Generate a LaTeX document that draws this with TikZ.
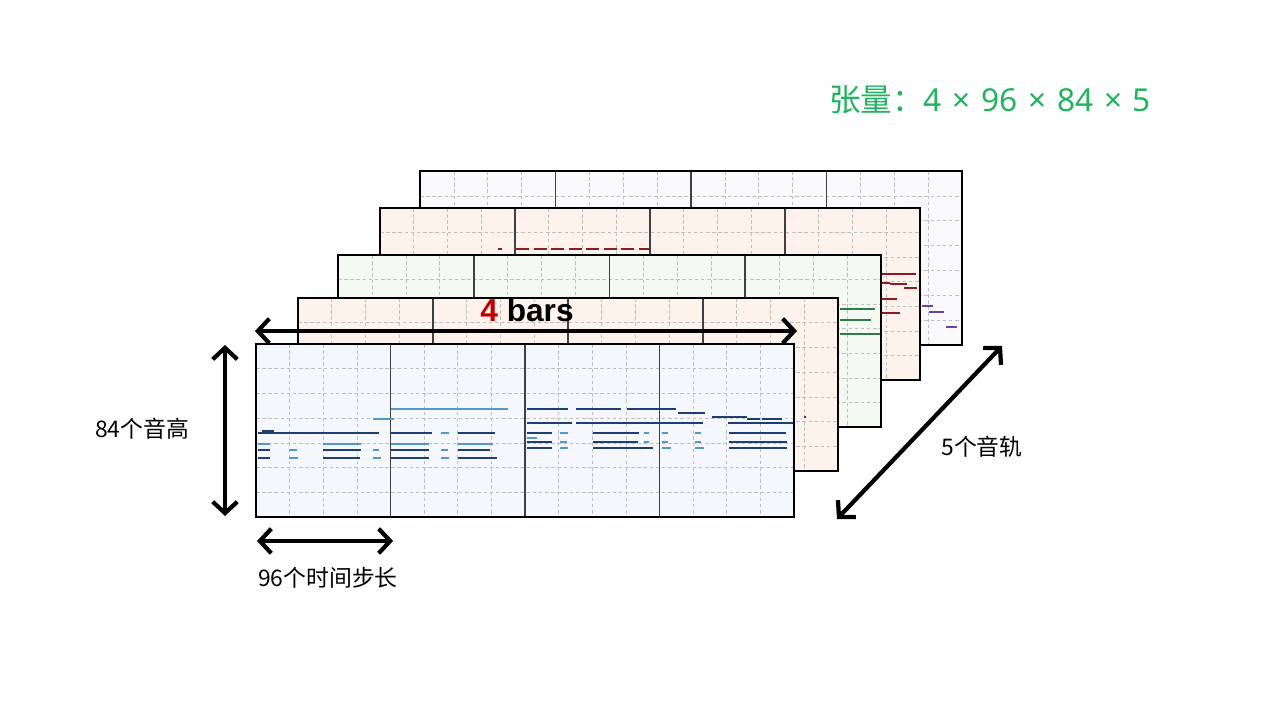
\documentclass[tikz,border=0pt]{standalone}
\usepackage{fontspec}
\usepackage{xcolor}
\usetikzlibrary{arrows.meta, positioning}
\setmainfont{Noto Sans CJK SC}
\newfontfamily\cjk{Noto Sans CJK SC}
\newfontfamily\latinsans[WordSpace=1.3]{Noto Sans}
\newfontfamily\arialb{Liberation Sans}

\definecolor{rollgray}{HTML}{F9F9FB}
\definecolor{rollpink}{HTML}{FDF3EC}
\definecolor{rollgreen}{HTML}{F4FAF1}
\definecolor{rollblue}{HTML}{F4F8FC}
\definecolor{notedark}{HTML}{1F3D70}
\definecolor{notelight}{HTML}{5497C9}
\definecolor{notered}{HTML}{8E1B24}
\definecolor{notegreen}{HTML}{2F7A48}
\definecolor{notepurple}{HTML}{6B3FA6}
\definecolor{titlegreen}{HTML}{22B35E}
\definecolor{barsred}{HTML}{C00000}

\begin{document}
\begin{tikzpicture}[
  x=0.2mm, y=-0.2mm,
  gridline/.style={draw=gray!50, dash pattern=on 2pt off 1.5pt, line width=0.4pt},
  barline/.style={draw=black!75, line width=0.9pt},
  border/.style={draw=black, line width=1.3pt},
  note/.style={line width=1.5pt},
  thinnote/.style={line width=1.2pt},
  dimarrow/.style={{Straight Barb[length=6.5pt,width=14pt]}-{Straight Barb[length=6.5pt,width=14pt]},
                   line width=2.4pt},
  lbl/.style={font=\cjk\fontsize{13}{15}\selectfont, inner sep=1pt}
]
\useasboundingbox (0,0) rectangle (1280,720);

% Title
\node[font=\cjk\fontsize{18}{22}\selectfont, text=titlegreen] (title) at (990,100)
  {张量：{\latinsans 4 × 96 × 84 × 5}};

% Piano-roll panels, back to front: left / top / width / height / fill
\foreach \px/\py/\pw/\ph/\pc in {420/171/542/174/rollgray, 380/208/540/172/rollpink,
    338/255/543/172/rollgreen, 298/298/540/173/rollpink, 256/344/538/173/rollblue}{
  \fill[\pc] (\px,\py) rectangle ++(\pw,\ph);
  \foreach \i in {1,...,15}
    \draw[gridline] ({\px+\i*\pw/16},\py) -- ++(0,\ph);
  \foreach \j in {1,...,6}
    \draw[gridline] (\px,{\py+\j*\ph/7}) -- ++(\pw,0);
  \foreach \b in {1,2,3}
    \draw[barline] ({\px+\b*\pw/4},\py) -- ++(0,\ph);
  \draw[border] (\px,\py) rectangle ++(\pw,\ph);
}

% Notes of the front track (dark)
\foreach \a/\b/\y in {258/379/433, 262/274/431, 391/432/433, 458/495/433,
    258/270/450, 323/361/450, 391/429/450, 458/490/450,
    258/270/458, 323/360/458, 391/429/458, 458/497/458,
    527/568/409, 576/621/409, 627/676/409, 678/705/413,
    712/747/417, 747/760/419, 762/782/419,
    527/572/423, 576/703/423, 728/793/423,
    527/552/433, 593/639/433, 729/786/433,
    527/552/442, 593/638/442, 729/787/442,
    527/552/448, 593/653/448, 729/787/448}
  \draw[note, notedark] (\a,\y) -- (\b,\y);

% Notes of the front track (light)
\foreach \a/\b/\y in {391/508/409, 373/394/419, 441/449/433,
    258/270/444, 323/361/444, 391/429/444, 458/493/444,
    289/297/450, 373/379/450, 441/448/450,
    289/298/458, 373/381/458, 441/449/458,
    560/568/433, 644/649/433, 662/668/433, 695/701/433, 527/537/438,
    560/567/442, 644/649/442, 662/668/442, 695/701/442,
    560/568/448, 662/671/448, 695/704/448}
  \draw[note, notelight] (\a,\y) -- (\b,\y);

% Visible notes of the tracks behind
\draw[thinnote, notered] (498,249) -- (502,249);
\draw[thinnote, notered, dash pattern=on 7.4pt off 2.6pt] (516,249) -- (650,249);
\draw[thinnote, notered] (804,417) -- (806,417);
\foreach \a/\b/\y in {882/916/274, 882/890/283, 890/907/284, 904/917/288,
    882/897/299, 882/900/313}
  \draw[thinnote, notered] (\a,\y) -- (\b,\y);
\foreach \a/\b/\y in {840/875/309, 840/871/320, 840/880/334}
  \draw[thinnote, notegreen] (\a,\y) -- (\b,\y);
\foreach \a/\b/\y in {922/933/306, 929/944/312, 946/957/327}
  \draw[thinnote, notepurple] (\a,\y) -- (\b,\y);

% Dimension arrows
\coordinate (barsL) at (255,331);
\coordinate (barsR) at (797,331);
\coordinate (pitchT) at (225,345);
\coordinate (pitchB) at (225,516);
\coordinate (timeL) at (257,541);
\coordinate (timeR) at (393,541);
\coordinate (trackA) at (837,519);
\coordinate (trackB) at (1002,346);

\draw[dimarrow] (barsL) -- (barsR);
\draw[dimarrow] (pitchT) -- (pitchB);
\draw[dimarrow] (timeL) -- (timeR);
\draw[dimarrow] (trackA) -- (trackB);

% Labels
\node[font=\arialb\bfseries\fontsize{18}{20}\selectfont, inner sep=1pt] (bars) at (527,310)
  {\textcolor{barsred}{4} bars};
\node[lbl] (pitch) at (142,429) {84个音高};
\node[lbl] (time) at (328,578) {96个时间步长};
\node[lbl] (track) at (982,447) {5个音轨};

\end{tikzpicture}
\end{document}
